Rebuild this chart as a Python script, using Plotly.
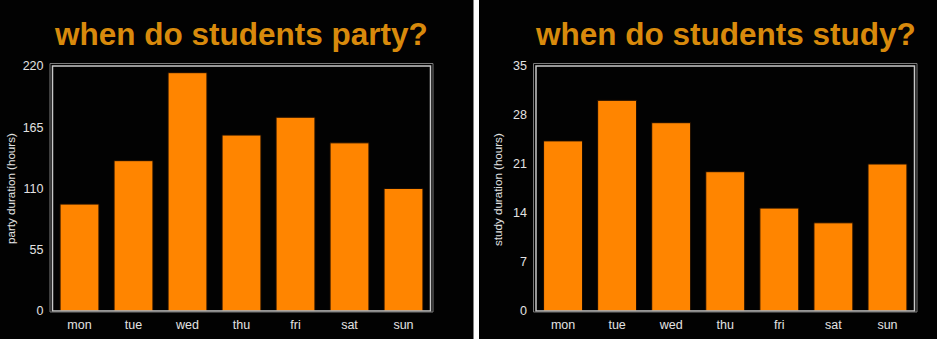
import plotly.graph_objects as go

days = ["mon", "tue", "wed", "thu", "fri", "sat", "sun"]
party_hours = [96, 135, 214, 158, 174, 151, 110]
study_hours = [24.3, 30.1, 26.9, 19.9, 14.7, 12.6, 21.0]
party_ticks = [0, 55, 110, 165, 220]
study_ticks = [0, 7, 14, 21, 28, 35]

W, H = 937, 339
def px(x):
    return x / W
def py(y):
    return 1 - y / H

BAR = "#ff8500"
TITLE = "#d88a0c"
TXT = "#e2e2e2"
FONT = "Liberation Sans, Arial, Helvetica, sans-serif"

L1 = (52.5, 430.5)
L2 = (536.0, 914.5)
TOP, BOT = 66.0, 311.0

fig = go.Figure()
fig.add_trace(go.Bar(x=days, y=party_hours, marker=dict(color=BAR, line=dict(color="#1a0c00", width=1)),
                     xaxis="x", yaxis="y", showlegend=False))
fig.add_trace(go.Bar(x=days, y=study_hours, marker=dict(color=BAR, line=dict(color="#1a0c00", width=1)),
                     xaxis="x2", yaxis="y2", showlegend=False))

axis_common = dict(showgrid=False, zeroline=False, showline=False, ticks="", automargin=False,
                   tickfont=dict(family=FONT, size=12.5, color=TXT), fixedrange=True)

fig.update_layout(
    width=W, height=H, margin=dict(l=0, r=0, t=0, b=0, pad=0, autoexpand=False),
    paper_bgcolor="#020202", plot_bgcolor="#020202",
    bargap=0.28,
    xaxis=dict(domain=[px(L1[0]), px(L1[1])], anchor="y", ticklabelstandoff=4, **axis_common),
    yaxis=dict(domain=[py(BOT), py(TOP)], anchor="x", range=[0, 220], tickmode="array",
               tickvals=party_ticks, ticktext=[str(v) for v in party_ticks], ticklabelstandoff=8, **axis_common),
    xaxis2=dict(domain=[px(L2[0]), px(L2[1])], anchor="y2", ticklabelstandoff=4, **axis_common),
    yaxis2=dict(domain=[py(BOT), py(TOP)], anchor="x2", range=[0, 35], tickmode="array",
                tickvals=study_ticks, ticktext=[str(v) for v in study_ticks], ticklabelstandoff=8, **axis_common),
)

shapes = []
# white divider between the two panels
shapes.append(dict(type="rect", xref="paper", yref="paper", x0=px(473.5), x1=px(479), y0=-0.05, y1=1.05,
                   fillcolor="white", line=dict(width=0), layer="above"))
for (a, b) in (L1, L2):
    shapes.append(dict(type="rect", xref="paper", yref="paper", x0=px(a), x1=px(b), y0=py(BOT), y1=py(TOP),
                       line=dict(color="#c8c8c8", width=1.5), layer="above"))
    shapes.append(dict(type="rect", xref="paper", yref="paper", x0=px(a - 2.5), x1=px(b + 2.5), y0=py(BOT + 1), y1=py(TOP - 2.5),
                       line=dict(color="#7a7a7a", width=1), layer="above"))
fig.update_layout(shapes=shapes)

annotations = [
    dict(text="when do students party?", x=px(240.5), y=py(34), xref="paper", yref="paper",
         showarrow=False, xanchor="center", yanchor="middle",
         font=dict(family=FONT, size=31.5, color=TITLE, weight="bold")),
    dict(text="when do students study?", x=px(725), y=py(34), xref="paper", yref="paper",
         showarrow=False, xanchor="center", yanchor="middle",
         font=dict(family=FONT, size=31.5, color=TITLE, weight="bold")),
    dict(text="party duration (hours)", x=px(10), y=py(189), xref="paper", yref="paper",
         showarrow=False, textangle=-90, xanchor="center", yanchor="middle",
         font=dict(family=FONT, size=11.6, color=TXT)),
    dict(text="study duration (hours)", x=px(497), y=py(189), xref="paper", yref="paper",
         showarrow=False, textangle=-90, xanchor="center", yanchor="middle",
         font=dict(family=FONT, size=11.6, color=TXT)),
]
fig.update_layout(annotations=annotations)

fig.write_html("out.html")
